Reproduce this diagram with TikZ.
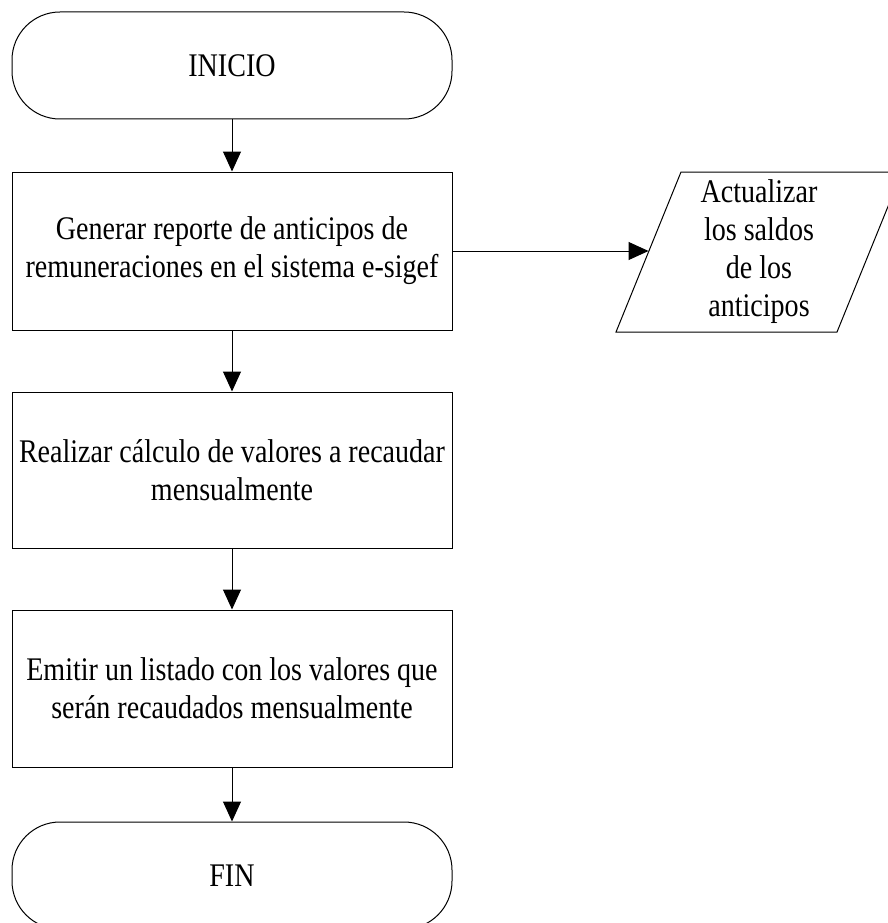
\documentclass[tikz,border=0pt]{standalone}
\usepackage{fontspec}
\setmainfont{Liberation Serif}[FakeStretch=0.85]
\usetikzlibrary{arrows.meta}
\begin{document}
\begin{tikzpicture}[x=1pt,y=-1pt,
  line width=1pt,
  every node/.style={font=\fontsize{33}{38}\selectfont, align=center, inner sep=0pt},
  terminal/.style={draw, rounded corners=48pt, minimum width=440pt, minimum height=107pt},
  process/.style={draw, minimum width=440pt},
  flow/.style={draw, -{Triangle[length=20pt,width=18pt]}}]
\useasboundingbox (0,0) rectangle (888,923);
\clip (0,0) rectangle (888,923);

% main column
\node[terminal] (ini) at (232,65.5) {INICIO};
\node[process, minimum height=158pt] (gen) at (232,251)
  {Generar reporte de anticipos de\\remuneraciones en el sistema e-sigef};
\node[process, minimum height=156pt] (calc) at (232,470)
  {Realizar cálculo de valores a recaudar\\mensualmente};
\node[process, minimum height=157pt] (emit) at (232,688.5)
  {Emitir un listado con los valores que\\serán recaudados mensualmente};
\node[terminal] (fin) at (232,875.5) {FIN};

% data output (parallelogram)
\draw (681,172) -- (902,172) -- (837,332) -- (616,332) -- cycle;
\node (upd) at (759,252) {Actualizar\\los saldos\\de los\\anticipos};
\coordinate (updin) at (648.5,251);

% connectors
\draw[flow] (ini) -- (gen);
\draw[flow] (gen) -- (calc);
\draw[flow] (calc) -- (emit);
\draw[flow] (emit) -- (fin);
\draw[flow] (gen.east) -- (updin);
\end{tikzpicture}
\end{document}
